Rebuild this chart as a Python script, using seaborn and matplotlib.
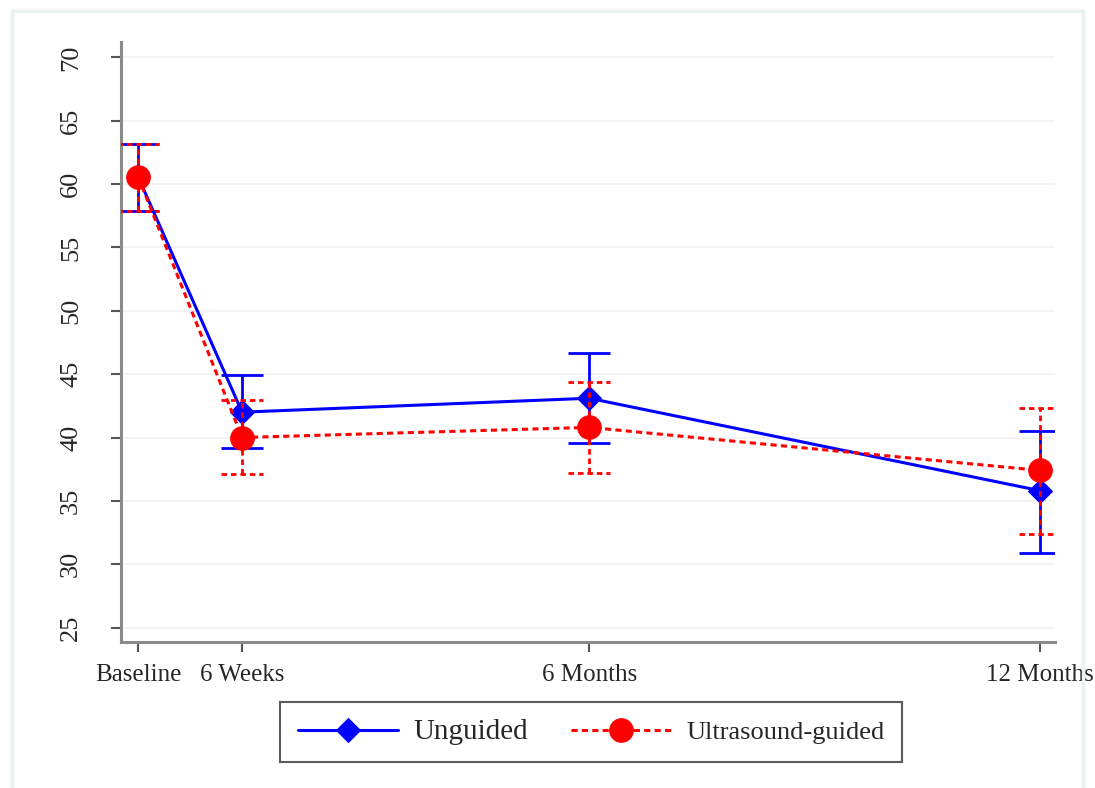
import numpy as np
import matplotlib
matplotlib.use("Agg")
from matplotlib import pyplot as plt
from matplotlib.patches import Rectangle
import seaborn as sns

# time points (weeks from baseline) and their tick labels
weeks = [0, 6, 26, 52]
time_labels = ["Baseline", "6 Weeks", "6 Months", "12 Months"]

# Unguided group: mean and 95% CI
unguided_mean = [60.6, 42.0, 43.1, 35.8]
unguided_lo = [57.9, 39.2, 39.6, 30.9]
unguided_hi = [63.2, 44.9, 46.7, 40.5]

# Ultrasound-guided group: mean and 95% CI
guided_mean = [60.6, 40.0, 40.8, 37.4]
guided_lo = [57.9, 37.1, 37.2, 32.4]
guided_hi = [63.2, 43.0, 44.4, 42.3]

y_ticks = [25, 30, 35, 40, 45, 50, 55, 60, 65, 70]

sns.set_style("white")
plt.rcParams["font.family"] = ["Liberation Serif", "DejaVu Serif"]

fig = plt.figure(figsize=(10.95, 7.88), dpi=100)
ax = fig.add_axes([0.1105, 0.1853, 0.853, 0.7614])

cap = 1.2  # half width of the CI caps, in weeks
red_dash = (0, (2, 1.4))

# gridlines
for yt in y_ticks:
    ax.axhline(yt, color="#f3f3f3", lw=1.5, zorder=0)

# unguided: CI bars + line
ax.vlines(weeks, unguided_lo, unguided_hi, color="blue", lw=2, zorder=2)
ax.hlines(unguided_lo, np.array(weeks) - cap, np.array(weeks) + cap, color="blue", lw=2, zorder=2)
ax.hlines(unguided_hi, np.array(weeks) - cap, np.array(weeks) + cap, color="blue", lw=2, zorder=2)
sns.lineplot(x=weeks, y=unguided_mean, ax=ax, color="blue", lw=2.2, marker="D",
             markersize=12.5, markeredgecolor="blue", markerfacecolor="blue",
             label="Unguided", errorbar=None, zorder=3, legend=False)

# ultrasound-guided: CI bars + line (dashed)
ax.vlines(weeks, guided_lo, guided_hi, color="red", lw=2, linestyles=[red_dash], zorder=4)
ax.hlines(guided_lo, np.array(weeks) - cap, np.array(weeks) + cap, color="red", lw=2,
          linestyles=[red_dash], zorder=4)
ax.hlines(guided_hi, np.array(weeks) - cap, np.array(weeks) + cap, color="red", lw=2,
          linestyles=[red_dash], zorder=4)
sns.lineplot(x=weeks, y=guided_mean, ax=ax, color="red", lw=2.2, linestyle=red_dash,
             marker="o", markersize=17, markeredgecolor="red", markerfacecolor="red",
             label="Ultrasound-guided", errorbar=None, zorder=5, legend=False)

ax.set_xlim(-0.98, 52.85)
ax.set_ylim(23.86, 71.22)
ax.set_xticks(weeks)
ax.set_xticklabels(time_labels, fontsize=18)
ax.set_yticks(y_ticks)
ax.set_yticklabels([str(t) for t in y_ticks], fontsize=19, rotation=90, va="center")
ax.set_xlabel("")
ax.set_ylabel("")

for side in ["top", "right"]:
    ax.spines[side].set_visible(False)
for side in ["left", "bottom"]:
    ax.spines[side].set_color("#8a8a8a")
    ax.spines[side].set_linewidth(2.2)

ax.tick_params(axis="both", which="major", length=7, width=1.5, color="#555555",
               direction="out", left=True, bottom=True)
ax.tick_params(axis="x", pad=9)
ax.tick_params(axis="y", pad=21)

handles, labels = ax.get_legend_handles_labels()
leg = fig.legend(handles, labels, loc="center", bbox_to_anchor=(0.54, 0.071), ncol=2,
                 fontsize=19, frameon=True, fancybox=False, handlelength=3.8,
                 handletextpad=0.6, columnspacing=1.6, borderpad=0.65)
leg.get_frame().set_edgecolor("#333333")
leg.get_frame().set_linewidth(1.5)
leg.get_texts()[0].set_fontsize(21)

# light outer frame
fig.patches.append(Rectangle((12 / 1095, -0.02), (1083 - 12) / 1095, 1.02 - 11 / 788,
                             transform=fig.transFigure, fill=False,
                             edgecolor="#e8f3f3", lw=2.5))

fig.savefig("out.png", dpi=100)
